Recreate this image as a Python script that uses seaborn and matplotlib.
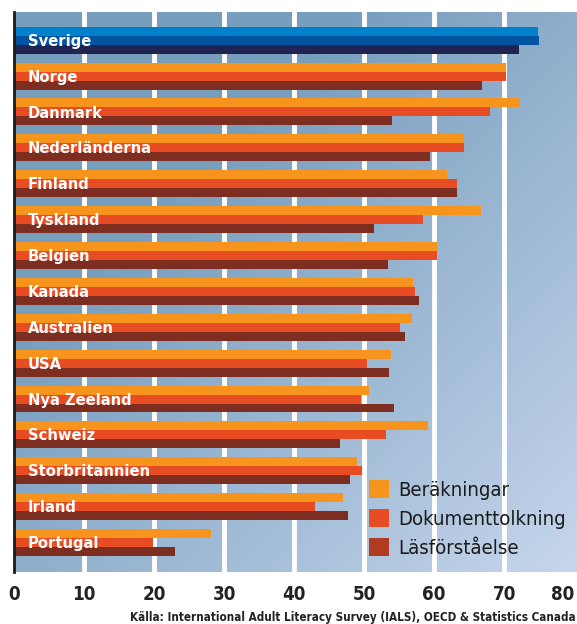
import numpy as np
import pandas as pd
import matplotlib
matplotlib.use("Agg")
import matplotlib.pyplot as plt
from matplotlib.patches import Patch
from matplotlib import font_manager
import seaborn as sns

# data
lander = ["Sverige", "Norge", "Danmark", "Nederländerna", "Finland", "Tyskland",
          "Belgien", "Kanada", "Australien", "USA", "Nya Zeeland", "Schweiz",
          "Storbritannien", "Irland", "Portugal"]
serier = ["Beräkningar", "Dokumenttolkning", "Läsförståelse"]
berakningar = [74.8, 70.3, 72.3, 64.3, 61.8, 66.7, 60.4, 57.0, 56.9, 53.8, 50.7, 59.1, 49.0, 47.0, 28.2]
dokument = [75.0, 70.3, 68.0, 64.3, 63.3, 58.4, 60.4, 57.3, 55.1, 50.4, 49.6, 53.1, 49.7, 43.0, 19.8]
lasforst = [72.1, 66.8, 54.0, 59.4, 63.3, 51.4, 53.4, 57.8, 55.8, 53.5, 54.3, 46.5, 48.0, 47.7, 23.0]
xticks = [0, 10, 20, 30, 40, 50, 60, 70, 80]
kalla = "Källa: International Adult Literacy Survey (IALS), OECD & Statistics Canada"

farger = ["#F7941D", "#E84C22", "#7E2E20"]
sverige_farger = ["#0081CC", "#0254A0", "#1F2452"]
legend_farger = ["#F7941D", "#E84C22", "#B13B20"]

df = pd.DataFrame({
    "land": lander * 3,
    "serie": [s for s in serier for _ in lander],
    "varde": berakningar + dokument + lasforst,
})


def condensed(bold):
    # look for a condensed face among the installed fonts
    for f in font_manager.fontManager.ttflist:
        st = str(f.stretch)
        w = f.weight if isinstance(f.weight, int) else (700 if "bold" in str(f.weight) else 400)
        if ("condensed" in st or "Condensed" in f.fname or "Narrow" in f.fname) \
                and (w >= 600) == bold and "Oblique" not in f.fname and "Italic" not in f.fname:
            return font_manager.FontProperties(fname=f.fname)
    return font_manager.FontProperties(family="DejaVu Sans",
                                       weight="bold" if bold else "normal")


fp_bold = condensed(True)
fp_reg = condensed(False)

fig = plt.figure(figsize=(5.77, 6.24), dpi=100)
ax = fig.add_axes([14 / 577, 1 - 572 / 624, 1 - 14 / 577, 560 / 624])

# diagonal gradient background, dark top-left -> light bottom-right
gx, gy = np.meshgrid(np.linspace(0, 1, 300), np.linspace(0, 1, 300))
s = (gx + (1 - gy)) / 2
t = np.clip((s - 0.3) / 0.7, 0, 1)
c0 = np.array(matplotlib.colors.to_rgb("#789EBE"))
c1 = np.array(matplotlib.colors.to_rgb("#C6D6EC"))
img = c0 + (c1 - c0) * t[..., None]
ax.imshow(img, extent=[0, 1, 0, 1], transform=ax.transAxes, aspect="auto",
          origin="lower", zorder=0)

for x in xticks[1:-1]:
    ax.axvline(x, color="white", lw=3.5, zorder=1)

sns.barplot(data=df, x="varde", y="land", hue="serie", orient="h",
            palette=farger, width=0.75, saturation=1, linewidth=0,
            legend=False, ax=ax, zorder=2)

for j, cont in enumerate(ax.containers):
    cont.patches[0].set_facecolor(sverige_farger[j])

for i, namn in enumerate(lander):
    ax.text(1.95, i + 0.03, namn, color="white", fontproperties=fp_bold,
            fontsize=11.8, va="center", ha="left", zorder=3)

ax.set_xlim(0, 80.4)
ax.set_ylim(14.82, -0.785)
ax.set_xticks(xticks)
ax.set_xticklabels([str(v) for v in xticks])
for lbl in ax.get_xticklabels():
    lbl.set_fontproperties(fp_bold)
    lbl.set_fontsize(13.5)
    lbl.set_color("#222222")
ax.get_xticklabels()[-1].set_horizontalalignment("right")
ax.tick_params(axis="x", length=0, pad=9)
ax.set_yticks([])
ax.set_xlabel("")
ax.set_ylabel("")
for sp in ["top", "right", "bottom"]:
    ax.spines[sp].set_visible(False)
ax.spines["left"].set_color("#1a1a1a")
ax.spines["left"].set_linewidth(2)
ax.spines["left"].set_zorder(4)

fp_leg = fp_reg.copy()
fp_leg.set_size(14.6)
handles = [Patch(facecolor=c, edgecolor="none") for c in legend_farger]
leg = fig.legend(handles, serier, loc="lower left",
                 bbox_to_anchor=(369 / 577, 1 - 558 / 624), frameon=False,
                 prop=fp_leg, handlelength=0.99, handleheight=0.99,
                 handletextpad=0.45, labelspacing=0.45, borderpad=0,
                 borderaxespad=0)
for txt in leg.get_texts():
    txt.set_color("#1a1a1a")

fig.text(576 / 577, 1 - 617 / 624, kalla, ha="right", va="center",
         fontproperties=fp_bold, fontsize=8.4, color="#222222")

fig.savefig("out.png", dpi=100)
